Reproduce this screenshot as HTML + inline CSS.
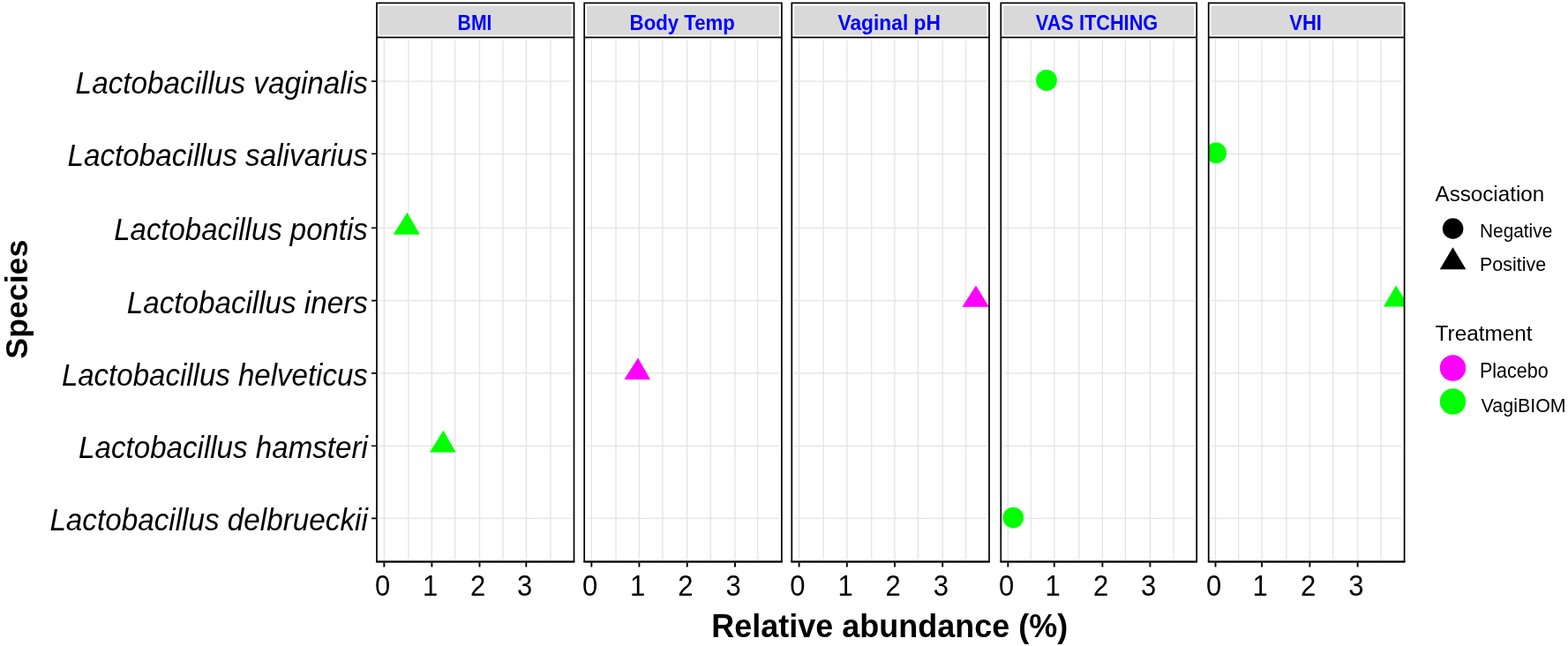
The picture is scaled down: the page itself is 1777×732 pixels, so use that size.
<!DOCTYPE html><html><head><meta charset="utf-8"><title>Species association plot</title><style>html,body{margin:0;padding:0;background:#fff;overflow:hidden;}svg{display:block;}text{font-family:'Liberation Sans', Arial, sans-serif;}</style></head><body>
<svg width="1777" height="732" viewBox="0 0 1777 732">
<rect x="0" y="0" width="1777" height="732" fill="#fff"/>
<defs>
<clipPath id="c0"><rect x="427.00" y="42.40" width="223.50" height="594.10"/></clipPath>
<clipPath id="c1"><rect x="662.20" y="42.40" width="223.70" height="594.10"/></clipPath>
<clipPath id="c2"><rect x="897.30" y="42.40" width="223.70" height="594.10"/></clipPath>
<clipPath id="c3"><rect x="1134.30" y="42.40" width="221.90" height="594.10"/></clipPath>
<clipPath id="c4"><rect x="1369.70" y="42.40" width="221.90" height="594.10"/></clipPath>
</defs>
<rect x="427.00" y="3.40" width="223.50" height="39.00" fill="#fff" stroke="#000" stroke-width="1.70"/>
<rect x="429.90" y="6.4" width="217.80" height="33.3" fill="#D9D9D9" rx="1.5"/>
<text transform="translate(538.0 33.7) scale(0.963 1.1)" font-size="22" font-weight="bold" fill="#0000FF" text-anchor="middle">BMI</text>
<path d="M430.0 92.10H647.2M430.0 174.30H647.2M430.0 258.20H647.2M430.0 340.60H647.2M430.0 422.90H647.2M430.0 505.30H647.2M430.0 587.40H647.2M435.35 45.9V633.0M463.00 45.9V633.0M489.40 45.9V633.0M515.60 45.9V633.0M543.50 45.9V633.0M570.00 45.9V633.0M596.30 45.9V633.0M624.00 45.9V633.0" stroke="#E4E4E4" stroke-width="1.3" fill="none"/>
<g clip-path="url(#c0)">
<path d="M461.5 240.8L475.8 265.7L445.8 265.7Z" fill="#00FF00"/>
<path d="M502.5 487.8L516.6 512.4L487.0 512.4Z" fill="#00FF00"/>
</g>
<path d="M427.00 42.40V636.50H650.50V42.40" fill="none" stroke="#000" stroke-width="1.70"/>
<path d="M426.15 636.50H651.35" fill="none" stroke="#000" stroke-width="1.9"/>
<path d="M435.35 637.5V642.5M489.40 637.5V642.5M543.50 637.5V642.5M596.30 637.5V642.5" stroke="#000" stroke-width="1.9" fill="none"/>
<text transform="translate(433.55 674.5) scale(1 1.09)" font-size="31" fill="#000" text-anchor="middle">0</text>
<text transform="translate(487.60 674.5) scale(1 1.09)" font-size="31" fill="#000" text-anchor="middle">1</text>
<text transform="translate(541.70 674.5) scale(1 1.09)" font-size="31" fill="#000" text-anchor="middle">2</text>
<text transform="translate(594.50 674.5) scale(1 1.09)" font-size="31" fill="#000" text-anchor="middle">3</text>
<rect x="662.20" y="3.40" width="223.70" height="39.00" fill="#fff" stroke="#000" stroke-width="1.70"/>
<rect x="665.10" y="6.4" width="218.00" height="33.3" fill="#D9D9D9" rx="1.5"/>
<text transform="translate(773.2 33.7) scale(1.009 1.1)" font-size="22" font-weight="bold" fill="#0000FF" text-anchor="middle">Body Temp</text>
<path d="M665.2 92.10H882.6M665.2 174.30H882.6M665.2 258.20H882.6M665.2 340.60H882.6M665.2 422.90H882.6M665.2 505.30H882.6M665.2 587.40H882.6M670.35 45.9V633.0M698.00 45.9V633.0M724.40 45.9V633.0M751.00 45.9V633.0M778.70 45.9V633.0M805.20 45.9V633.0M833.00 45.9V633.0M858.60 45.9V633.0" stroke="#E4E4E4" stroke-width="1.3" fill="none"/>
<g clip-path="url(#c1)">
<path d="M723.0 405.4L737.0 430.0L707.4 430.0Z" fill="#FF00FF"/>
</g>
<path d="M662.20 42.40V636.50H885.90V42.40" fill="none" stroke="#000" stroke-width="1.70"/>
<path d="M661.35 636.50H886.75" fill="none" stroke="#000" stroke-width="1.9"/>
<path d="M670.35 637.5V642.5M724.40 637.5V642.5M778.70 637.5V642.5M833.00 637.5V642.5" stroke="#000" stroke-width="1.9" fill="none"/>
<text transform="translate(668.55 674.5) scale(1 1.09)" font-size="31" fill="#000" text-anchor="middle">0</text>
<text transform="translate(722.60 674.5) scale(1 1.09)" font-size="31" fill="#000" text-anchor="middle">1</text>
<text transform="translate(776.90 674.5) scale(1 1.09)" font-size="31" fill="#000" text-anchor="middle">2</text>
<text transform="translate(831.20 674.5) scale(1 1.09)" font-size="31" fill="#000" text-anchor="middle">3</text>
<rect x="897.30" y="3.40" width="223.70" height="39.00" fill="#fff" stroke="#000" stroke-width="1.70"/>
<rect x="900.20" y="6.4" width="218.00" height="33.3" fill="#D9D9D9" rx="1.5"/>
<text transform="translate(1007.7 33.7) scale(1.036 1.1)" font-size="22" font-weight="bold" fill="#0000FF" text-anchor="middle">Vaginal pH</text>
<path d="M900.3 92.10H1117.7M900.3 174.30H1117.7M900.3 258.20H1117.7M900.3 340.60H1117.7M900.3 422.90H1117.7M900.3 505.30H1117.7M900.3 587.40H1117.7M905.60 45.9V633.0M933.10 45.9V633.0M959.80 45.9V633.0M987.70 45.9V633.0M1014.00 45.9V633.0M1040.40 45.9V633.0M1068.20 45.9V633.0M1094.60 45.9V633.0" stroke="#E4E4E4" stroke-width="1.3" fill="none"/>
<g clip-path="url(#c2)">
<path d="M1106.0 323.4L1120.8 347.8L1090.4 347.8Z" fill="#FF00FF"/>
</g>
<path d="M897.30 42.40V636.50H1121.00V42.40" fill="none" stroke="#000" stroke-width="1.70"/>
<path d="M896.45 636.50H1121.85" fill="none" stroke="#000" stroke-width="1.9"/>
<path d="M905.60 637.5V642.5M959.80 637.5V642.5M1014.00 637.5V642.5M1068.20 637.5V642.5" stroke="#000" stroke-width="1.9" fill="none"/>
<text transform="translate(903.80 674.5) scale(1 1.09)" font-size="31" fill="#000" text-anchor="middle">0</text>
<text transform="translate(958.00 674.5) scale(1 1.09)" font-size="31" fill="#000" text-anchor="middle">1</text>
<text transform="translate(1012.20 674.5) scale(1 1.09)" font-size="31" fill="#000" text-anchor="middle">2</text>
<text transform="translate(1066.40 674.5) scale(1 1.09)" font-size="31" fill="#000" text-anchor="middle">3</text>
<rect x="1134.30" y="3.40" width="221.90" height="39.00" fill="#fff" stroke="#000" stroke-width="1.70"/>
<rect x="1137.20" y="6.4" width="216.20" height="33.3" fill="#D9D9D9" rx="1.5"/>
<text transform="translate(1243.0 33.7) scale(0.988 1.1)" font-size="22" font-weight="bold" fill="#0000FF" text-anchor="middle">VAS ITCHING</text>
<path d="M1137.3 92.10H1352.9M1137.3 174.30H1352.9M1137.3 258.20H1352.9M1137.3 340.60H1352.9M1137.3 422.90H1352.9M1137.3 505.30H1352.9M1137.3 587.40H1352.9M1142.35 45.9V633.0M1168.20 45.9V633.0M1194.80 45.9V633.0M1222.90 45.9V633.0M1249.40 45.9V633.0M1275.50 45.9V633.0M1303.40 45.9V633.0M1330.10 45.9V633.0" stroke="#E4E4E4" stroke-width="1.3" fill="none"/>
<g clip-path="url(#c3)">
<circle cx="1186.0" cy="91.0" r="11.9" fill="#00FF00"/>
<circle cx="1148.3" cy="586.6" r="11.8" fill="#00FF00"/>
</g>
<path d="M1134.30 42.40V636.50H1356.20V42.40" fill="none" stroke="#000" stroke-width="1.70"/>
<path d="M1133.45 636.50H1357.05" fill="none" stroke="#000" stroke-width="1.9"/>
<path d="M1142.35 637.5V642.5M1194.80 637.5V642.5M1249.40 637.5V642.5M1303.40 637.5V642.5" stroke="#000" stroke-width="1.9" fill="none"/>
<text transform="translate(1140.55 674.5) scale(1 1.09)" font-size="31" fill="#000" text-anchor="middle">0</text>
<text transform="translate(1193.00 674.5) scale(1 1.09)" font-size="31" fill="#000" text-anchor="middle">1</text>
<text transform="translate(1247.60 674.5) scale(1 1.09)" font-size="31" fill="#000" text-anchor="middle">2</text>
<text transform="translate(1301.60 674.5) scale(1 1.09)" font-size="31" fill="#000" text-anchor="middle">3</text>
<rect x="1369.70" y="3.40" width="221.90" height="39.00" fill="#fff" stroke="#000" stroke-width="1.70"/>
<rect x="1372.60" y="6.4" width="216.20" height="33.3" fill="#D9D9D9" rx="1.5"/>
<text transform="translate(1479.6 33.7) scale(1.000 1.1)" font-size="22" font-weight="bold" fill="#0000FF" text-anchor="middle">VHI</text>
<path d="M1372.7 92.10H1588.3M1372.7 174.30H1588.3M1372.7 258.20H1588.3M1372.7 340.60H1588.3M1372.7 422.90H1588.3M1372.7 505.30H1588.3M1372.7 587.40H1588.3M1377.50 45.9V633.0M1403.60 45.9V633.0M1430.00 45.9V633.0M1457.90 45.9V633.0M1484.40 45.9V633.0M1510.70 45.9V633.0M1538.60 45.9V633.0M1565.10 45.9V633.0" stroke="#E4E4E4" stroke-width="1.3" fill="none"/>
<g clip-path="url(#c4)">
<circle cx="1378.2" cy="173.4" r="11.8" fill="#00FF00"/>
<path d="M1582.0 323.4L1597.1 347.6L1567.9 347.6Z" fill="#00FF00"/>
</g>
<path d="M1369.70 42.40V636.50H1591.60V42.40" fill="none" stroke="#000" stroke-width="1.70"/>
<path d="M1368.85 636.50H1592.45" fill="none" stroke="#000" stroke-width="1.9"/>
<path d="M1377.50 637.5V642.5M1430.00 637.5V642.5M1484.40 637.5V642.5M1538.60 637.5V642.5" stroke="#000" stroke-width="1.9" fill="none"/>
<text transform="translate(1375.70 674.5) scale(1 1.09)" font-size="31" fill="#000" text-anchor="middle">0</text>
<text transform="translate(1428.20 674.5) scale(1 1.09)" font-size="31" fill="#000" text-anchor="middle">1</text>
<text transform="translate(1482.60 674.5) scale(1 1.09)" font-size="31" fill="#000" text-anchor="middle">2</text>
<text transform="translate(1536.80 674.5) scale(1 1.09)" font-size="31" fill="#000" text-anchor="middle">3</text>
<path d="M421 92.10H426M421 174.30H426M421 258.20H426M421 340.60H426M421 422.90H426M421 505.30H426M421 587.40H426" stroke="#000" stroke-width="1.6" fill="none"/>
<text transform="translate(416.8 106.10) scale(1.0000 1.05)" font-size="33.3" font-style="italic" fill="#000" text-anchor="end">Lactobacillus vaginalis</text>
<text transform="translate(416.8 188.30) scale(1.0000 1.05)" font-size="33.3" font-style="italic" fill="#000" text-anchor="end">Lactobacillus salivarius</text>
<text transform="translate(416.8 272.20) scale(0.9896 1.05)" font-size="33.3" font-style="italic" fill="#000" text-anchor="end">Lactobacillus pontis</text>
<text transform="translate(416.8 354.60) scale(0.9970 1.05)" font-size="33.3" font-style="italic" fill="#000" text-anchor="end">Lactobacillus iners</text>
<text transform="translate(416.8 436.90) scale(0.9920 1.05)" font-size="33.3" font-style="italic" fill="#000" text-anchor="end">Lactobacillus helveticus</text>
<text transform="translate(416.8 519.30) scale(0.9950 1.05)" font-size="33.3" font-style="italic" fill="#000" text-anchor="end">Lactobacillus hamsteri</text>
<text transform="translate(416.8 601.40) scale(0.9990 1.05)" font-size="33.3" font-style="italic" fill="#000" text-anchor="end">Lactobacillus delbrueckii</text>
<text transform="translate(1008.2 722.1) scale(1 1.02)" font-size="36" font-weight="bold" fill="#000" text-anchor="middle">Relative abundance (%)</text>
<text transform="translate(30.6 339.2) rotate(-90)" x="0" y="0" font-size="35.7" font-weight="bold" fill="#000" text-anchor="middle">Species</text>
<text x="1626.5" y="227.8" font-size="24.2" fill="#000">Association</text>
<circle cx="1646.6" cy="259" r="11.8" fill="#000"/>
<path d="M1646.5 280.2L1661.4 305.3L1631.7 305.3Z" fill="#000"/>
<text transform="translate(1677 268.7) scale(1 1.07)" font-size="20.85" fill="#000">Negative</text>
<text transform="translate(1677 306.5) scale(1 1.07)" font-size="21.45" fill="#000">Positive</text>
<text x="1626.6" y="386.2" font-size="24.35" fill="#000">Treatment</text>
<circle cx="1646.5" cy="417" r="14.7" fill="#FF00FF"/>
<circle cx="1646.5" cy="455" r="14.7" fill="#00FF00"/>
<text transform="translate(1677 428.4) scale(1 1.07)" font-size="21.5" fill="#000">Placebo</text>
<text transform="translate(1678.6 466.5) scale(1 1.07)" font-size="21.45" fill="#000">VagiBIOM</text>
</svg></body></html>
